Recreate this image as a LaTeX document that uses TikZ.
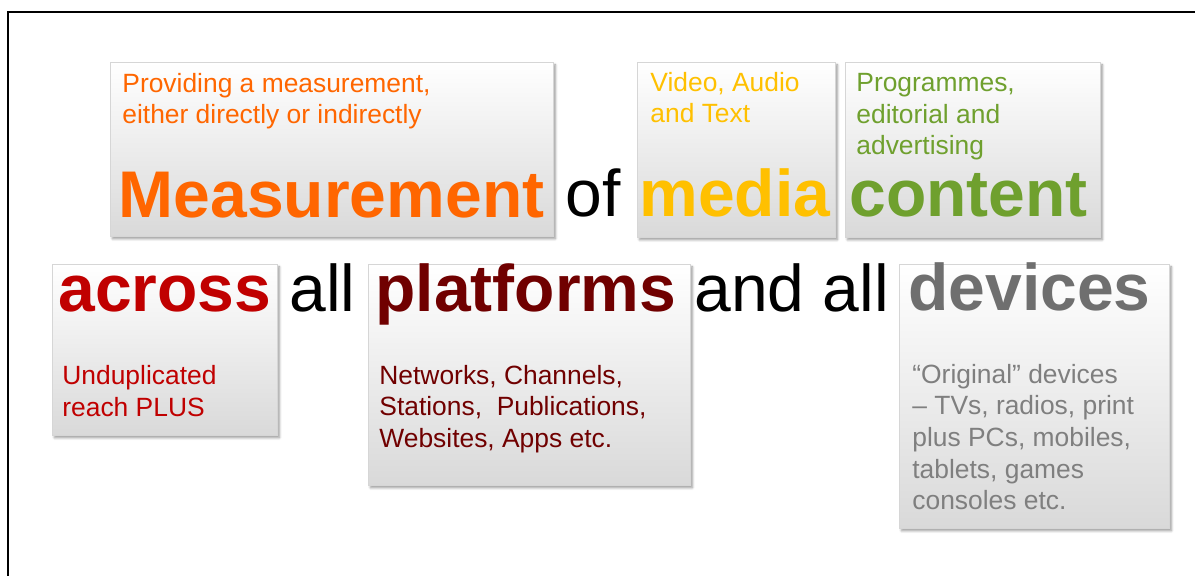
\documentclass[tikz,border=0pt]{standalone}
\usepackage{fontspec}
\setmainfont{Liberation Sans}
\usetikzlibrary{shadows,shadows.blur}

\definecolor{measorange}{HTML}{FF6600}
\definecolor{mediagold}{HTML}{FFC000}
\definecolor{contentgreen}{HTML}{6FA02E}
\definecolor{acrossred}{HTML}{C00000}
\definecolor{platred}{HTML}{700000}
\definecolor{devgray}{HTML}{6F6F6F}
\definecolor{notegray}{HTML}{7F7F7F}
\definecolor{boxline}{HTML}{D6D6D6}
\definecolor{boxgray}{HTML}{D9D9D9}

\begin{document}
\begin{tikzpicture}[x=0.5pt, y=-0.5pt,
    cardbox/.style={draw=boxline, line width=0.4pt, top color=white, bottom color=boxgray,
      anchor=north west, inner sep=0pt,
      blur shadow={shadow xshift=1pt, shadow yshift=-1.2pt, shadow blur radius=1.2pt, shadow blur steps=6}},
    bigword/.style={font=\fontsize{33}{40}\selectfont\bfseries, anchor=base west, inner sep=0pt},
    joinword/.style={font=\fontsize{33}{40}\selectfont, anchor=base west, inner sep=0pt},
    note/.style={font=\fontsize{13.2}{15.85}\selectfont, align=left, anchor=base west, inner sep=0pt}]
    \useasboundingbox (0,0) rectangle (1195,576);

    % Frame
    \draw[line width=1pt] (8.3,576) -- (8.3,12.5) -- (1195,12.5);

    % Define boxes
    \node[cardbox, minimum width=221.5pt, minimum height=87pt] (measbox) at (110,62) {};
    \node[cardbox, minimum width=99pt, minimum height=87.5pt] (mediabox) at (637,62) {};
    \node[cardbox, minimum width=127.5pt, minimum height=87.5pt] (contentbox) at (845,62) {};
    \node[cardbox, minimum width=112.5pt, minimum height=85.5pt] (acrossbox) at (52,264) {};
    \node[cardbox, minimum width=161pt, minimum height=110.5pt] (platbox) at (368,264) {};
    \node[cardbox, minimum width=135pt, minimum height=132pt] (devbox) at (899,264) {};

    % First line (note anchors sit on the last line)
    \node[note, text=measorange] (measnote) at (122,124) {Providing a measurement,\\either directly or indirectly};
    \node[bigword, text=measorange] (measword) at (118.5,218) {Measurement};
    \node[joinword] (ofword) at (565.5,217) {of};
    \node[note, text=mediagold] (medianote) at (650,123) {Video, Audio\\and Text};
    \node[bigword, text=mediagold] (mediaword) at (639,217) {media};
    \node[note, text=contentgreen] (contentnote) at (856,155) {Programmes,\\editorial and\\advertising};
    \node[bigword, text=contentgreen] (contentword) at (849,217) {content};

    % Second line
    \node[bigword, text=acrossred] (acrossword) at (58,312) {across};
    \node[note, text=acrossred] (acrossnote) at (62,416.5) {Unduplicated\\reach PLUS};
    \node[joinword] (allword) at (289,312) {all};
    \node[bigword, text=platred] (platword) at (375,312) {platforms};
    \node[note, text=platred] (platnote) at (379,447.5) {Networks, Channels,\\Stations,\ \ Publications,\\Websites, Apps etc.};
    \node[joinword] (andword) at (694,312) {and all};
    \node[bigword, text=devgray] (devword) at (908,311) {devices};
    \node[note, text=notegray] (devnote) at (912,510) {``Original'' devices\\-- TVs, radios, print\\plus PCs, mobiles,\\tablets, games\\consoles etc.};

  \end{tikzpicture}
\end{document}
